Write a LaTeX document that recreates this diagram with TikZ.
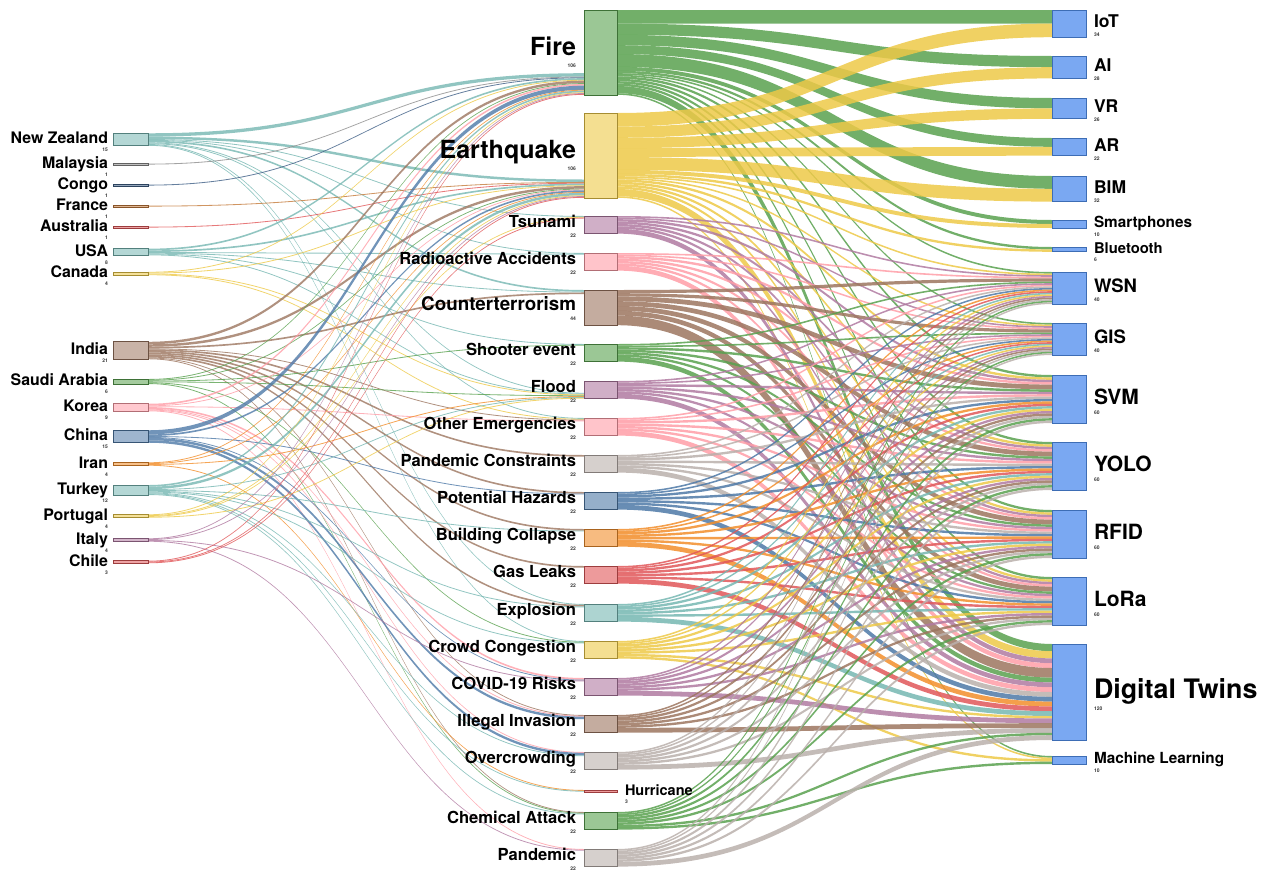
\documentclass[tikz,border=0pt]{standalone}
\usepackage{fontspec}
\setmainfont{TeX Gyre Heros}
\usetikzlibrary{backgrounds}
\definecolor{cG}{HTML}{59A14F}
\definecolor{cY}{HTML}{EDC948}
\definecolor{cP}{HTML}{B07AA1}
\definecolor{cK}{HTML}{FF9DA7}
\definecolor{cB}{HTML}{9C755F}
\definecolor{cA}{HTML}{BAB0AC}
\definecolor{cU}{HTML}{4E79A7}
\definecolor{cO}{HTML}{F28E2B}
\definecolor{cR}{HTML}{E15759}
\definecolor{cT}{HTML}{76B7B2}
\definecolor{cMy}{HTML}{8C8C8C}
\definecolor{cCg}{HTML}{3F5F86}
\definecolor{cFr}{HTML}{C47A3A}
\definecolor{cN}{HTML}{7AA8F2}
\definecolor{cNd}{HTML}{3D6DB5}
% offsets bookkeeping
\newcommand\initoff[1]{\expandafter\gdef\csname soX#1\endcsname{0}\expandafter\gdef\csname tiX#1\endcsname{0}}
\newcommand\setin[2]{\expandafter\gdef\csname tiX#1\endcsname{#2}}
\newcommand\skband[5]{%
  \pgfmathsetmacro\bA{\csname soX#1\endcsname}%
  \pgfmathsetmacro\bB{\csname tiX#2\endcsname}%
  \pgfmathsetmacro\bT{#3*#5}%
  \pgfmathsetmacro\bAe{\bA+\bT}%
  \pgfmathsetmacro\bBe{\bB+\bT}%
  \expandafter\xdef\csname soX#1\endcsname{\bAe}%
  \expandafter\xdef\csname tiX#2\endcsname{\bBe}%
  \fill[#4] ([yshift=-\bA pt]#1.north east) .. controls +(218,0) and +(-218,0) .. ([yshift=-\bB pt]#2.north west)
     -- ([yshift=-\bBe pt]#2.north west) .. controls +(-218,0) and +(218,0) .. ([yshift=-\bAe pt]#1.north east) -- cycle;}
\newcommand\lflow[4]{\skband{#1}{#2}{#3}{fill=#4,fill opacity=0.8}{0.83}}
\newcommand\rflow[4]{\skband{#1}{#2}{#3}{fill=#4,fill opacity=0.85}{0.8}}
\newcommand\stdflows[2]{\rflow{#1}{wsn}{2}{#2}\rflow{#1}{gis}{2}{#2}\rflow{#1}{svm}{3}{#2}\rflow{#1}{yolo}{3}{#2}\rflow{#1}{rfid}{3}{#2}\rflow{#1}{lora}{3}{#2}\rflow{#1}{dt}{6}{#2}}
\newcommand\mlflows[2]{\rflow{#1}{wsn}{2}{#2}\rflow{#1}{gis}{2}{#2}\rflow{#1}{svm}{3}{#2}\rflow{#1}{yolo}{3}{#2}\rflow{#1}{rfid}{3}{#2}\rflow{#1}{lora}{3}{#2}\rflow{#1}{dt}{3}{#2}\rflow{#1}{ml}{3}{#2}}
\newcommand\bigflows[2]{\rflow{#1}{iot}{17}{#2}\rflow{#1}{ai}{14}{#2}\rflow{#1}{vr}{13}{#2}\rflow{#1}{ar}{11}{#2}\rflow{#1}{bim}{16}{#2}\rflow{#1}{sph}{5}{#2}\rflow{#1}{blu}{3}{#2}%
  \rflow{#1}{wsn}{2}{#2}\rflow{#1}{gis}{2}{#2}\rflow{#1}{svm}{3}{#2}\rflow{#1}{yolo}{3}{#2}\rflow{#1}{rfid}{3}{#2}\rflow{#1}{lora}{3}{#2}\rflow{#1}{dt}{9}{#2}\rflow{#1}{ml}{2}{#2}}
% node makers
\newcommand\mkc[5]{% name, center y, value, colour, label
  \pgfmathsetmacro\hh{max(#3*0.83,1.6)}%
  \node[cbox, fill=#4!55!white, draw=#4!70!black, minimum height=\hh pt, anchor=west] (#1) at (113,#2) {};
  \initoff{#1}%
  \node[lab, font=\bfseries\fontsize{15.9}{16}\selectfont, anchor=base east] (#1l) at (108,#2+4) {#5};
  \node[num, anchor=north east] (#1n) at (108,#2+8.5) {#3};}
\newcommand\mkm[6]{% name, top, value, colour, label, font size
  \node[mbox, fill=#4!60!white, draw=#4!70!black, minimum height=#3*0.8*1pt, anchor=north west] (#1) at (584,#2) {};
  \initoff{#1}%
  \node[lab, font=\bfseries\fontsize{#6}{#6}\selectfont, anchor=base east] (#1l) at (576,#2+#3*0.4+3) {#5};
  \node[num, anchor=north east] (#1n) at (576,#2+#3*0.4+3+#6*0.35) {#3};}
\newcommand\mkr[5]{% name, top, value, label, font size
  \node[rbox, minimum height=#3*0.8*1pt, anchor=north west] (#1) at (1052,#2) {};
  \initoff{#1}%
  \node[lab, font=\bfseries\fontsize{#5}{#5}\selectfont, anchor=base west] (#1l) at (1094,#2+#3*0.4+#5*0.25) {#4};
  \node[num, anchor=north west] (#1n) at (1094,#2+#3*0.4+#5*0.55) {#3};}
\begin{document}
\begin{tikzpicture}[x=1pt,y=-1pt,
  cbox/.style={rectangle, inner sep=0pt, outer sep=0pt, minimum width=35pt, line width=0.6pt},
  mbox/.style={rectangle, inner sep=0pt, outer sep=0pt, minimum width=33pt, line width=0.6pt},
  rbox/.style={rectangle, inner sep=0pt, outer sep=0pt, minimum width=34pt, line width=0.7pt, fill=cN, draw=cNd},
  lab/.style={inner sep=0pt, outer sep=0pt, text=black},
  num/.style={inner sep=0pt, outer sep=0pt, font=\bfseries\fontsize{5}{5}\selectfont, text=black!80}]
\useasboundingbox (0,0) rectangle (1265,870);
% ---------- countries ----------
\mkc{nz}{139.5}{15}{cT}{New Zealand}
\mkc{my}{164.5}{1}{cMy}{Malaysia}
\mkc{cg}{185.5}{1}{cCg}{Congo}
\mkc{fr}{206.5}{1}{cFr}{France}
\mkc{au}{227.5}{1}{cR}{Australia}
\mkc{us}{252}{8}{cT}{USA}
\mkc{ca}{273.5}{4}{cY}{Canada}
\mkc{ind}{350.5}{21}{cB}{India}
\mkc{sa}{381.5}{6}{cG}{Saudi Arabia}
\mkc{kr}{407.5}{9}{cK}{Korea}
\mkc{cn}{436.5}{15}{cU}{China}
\mkc{ir}{464}{4}{cO}{Iran}
\mkc{tr}{490}{12}{cT}{Turkey}
\mkc{pt}{516}{4}{cY}{Portugal}
\mkc{it}{540}{4}{cP}{Italy}
\mkc{cl}{562}{3}{cR}{Chile}
% ---------- disasters ----------
\mkm{fire}{10}{106}{cG}{Fire}{25}
\mkm{quake}{113}{106}{cY}{Earthquake}{25}
\mkm{tsu}{216}{22}{cP}{Tsunami}{16.6}
\mkm{rad}{253}{22}{cK}{Radioactive Accidents}{16.6}
\mkm{ctr}{290}{44}{cB}{Counterterrorism}{18.8}
\mkm{sho}{344}{22}{cG}{Shooter event}{16.6}
\mkm{flo}{381}{22}{cP}{Flood}{16.6}
\mkm{oth}{418}{22}{cK}{Other Emergencies}{16.6}
\mkm{pco}{455}{22}{cA}{Pandemic Constraints}{16.6}
\mkm{pha}{492}{22}{cU}{Potential Hazards}{16.6}
\mkm{bco}{529}{22}{cO}{Building Collapse}{16.6}
\mkm{gas}{566}{22}{cR}{Gas Leaks}{16.6}
\mkm{exp}{604}{22}{cT}{Explosion}{16.6}
\mkm{cro}{641}{22}{cY}{Crowd Congestion}{16.6}
\mkm{cov}{678}{22}{cP}{COVID-19 Risks}{16.6}
\mkm{ill}{715}{22}{cB}{Illegal Invasion}{16.6}
\mkm{ovc}{752}{22}{cA}{Overcrowding}{16.6}
\node[mbox, fill=cR!60!white, draw=cR!70!black, minimum height=2.4pt, anchor=north west] (hur) at (584,790) {};
\initoff{hur}
\node[lab, font=\bfseries\fontsize{14.5}{14.5}\selectfont, anchor=base west] (hurl) at (625,795.5) {Hurricane};
\node[num, anchor=north west] (hurn) at (625,800) {3};
\mkm{che}{812}{22}{cG}{Chemical Attack}{16.6}
\mkm{pan}{849}{22}{cA}{Pandemic}{16.6}
% ---------- technologies ----------
\mkr{iot}{10}{34}{IoT}{17.5}
\mkr{ai}{56}{28}{AI}{17.5}
\mkr{vr}{98}{26}{VR}{17.5}
\mkr{ar}{138}{22}{AR}{17.5}
\mkr{bim}{176}{32}{BIM}{17.5}
\mkr{sph}{220}{10}{Smartphones}{15.3}
\mkr{blu}{247}{6}{Bluetooth}{14.8}
\mkr{wsn}{272}{40}{WSN}{18.5}
\mkr{gis}{323}{40}{GIS}{18.5}
\mkr{svm}{375}{60}{SVM}{21}
\mkr{yolo}{442}{60}{YOLO}{21}
\mkr{rfid}{510}{60}{RFID}{21}
\mkr{lora}{577}{60}{LoRa}{21}
\mkr{dt}{644}{120}{Digital Twins}{26.8}
\mkr{ml}{756}{10}{Machine Learning}{15.3}
\setin{fire}{63.2}
\setin{quake}{66.5}
\setin{flo}{11.8}
\begin{pgfonlayer}{background}
% ---------- country -> disaster ----------
\lflow{nz}{fire}{4}{cT}\lflow{nz}{quake}{3}{cT}\lflow{nz}{tsu}{1}{cT}\lflow{nz}{rad}{1}{cT}\lflow{nz}{ctr}{2}{cT}\lflow{nz}{flo}{1}{cT}\lflow{nz}{oth}{1}{cT}\lflow{nz}{exp}{1}{cT}\lflow{nz}{cro}{1}{cT}
\lflow{my}{fire}{1}{cMy}
\lflow{cg}{fire}{1}{cCg}
\lflow{fr}{quake}{1}{cFr}
\lflow{au}{quake}{1}{cR}
\lflow{us}{fire}{2}{cT}\lflow{us}{quake}{2}{cT}\lflow{us}{rad}{1}{cT}\lflow{us}{ctr}{1}{cT}\lflow{us}{sho}{1}{cT}\lflow{us}{flo}{1}{cT}
\lflow{ca}{fire}{1}{cY}\lflow{ca}{quake}{1}{cY}\lflow{ca}{flo}{1}{cY}\lflow{ca}{oth}{1}{cY}
\lflow{ind}{fire}{3}{cB}\lflow{ind}{quake}{3}{cB}\lflow{ind}{ctr}{2}{cB}\lflow{ind}{oth}{1}{cB}\lflow{ind}{pco}{2}{cB}\lflow{ind}{pha}{2}{cB}\lflow{ind}{bco}{2}{cB}\lflow{ind}{gas}{2}{cB}\lflow{ind}{exp}{2}{cB}\lflow{ind}{ill}{1}{cB}\lflow{ind}{che}{1}{cB}
\lflow{sa}{fire}{1}{cG}\lflow{sa}{quake}{1}{cG}\lflow{sa}{sho}{1}{cG}\lflow{sa}{flo}{1}{cG}\lflow{sa}{cro}{1}{cG}\lflow{sa}{che}{1}{cG}
\lflow{kr}{fire}{2}{cK}\lflow{kr}{quake}{1}{cK}\lflow{kr}{oth}{1}{cK}\lflow{kr}{cov}{2}{cK}\lflow{kr}{ill}{1}{cK}\lflow{kr}{ovc}{1}{cK}\lflow{kr}{pan}{1}{cK}
\lflow{cn}{fire}{5}{cU}\lflow{cn}{quake}{2}{cU}\lflow{cn}{pha}{1}{cU}\lflow{cn}{cov}{1}{cU}\lflow{cn}{ill}{3}{cU}\lflow{cn}{ovc}{3}{cU}
\lflow{ir}{fire}{1}{cO}\lflow{ir}{quake}{1}{cO}\lflow{ir}{flo}{1}{cO}\lflow{ir}{hur}{1}{cO}
\lflow{tr}{fire}{2}{cT}\lflow{tr}{quake}{3}{cT}\lflow{tr}{flo}{1}{cT}\lflow{tr}{bco}{1}{cT}\lflow{tr}{exp}{1}{cT}\lflow{tr}{cro}{1}{cT}\lflow{tr}{ovc}{1}{cT}\lflow{tr}{hur}{1}{cT}\lflow{tr}{che}{1}{cT}
\lflow{pt}{fire}{1}{cY}\lflow{pt}{quake}{1}{cY}\lflow{pt}{tsu}{1}{cY}\lflow{pt}{flo}{1}{cY}
\lflow{it}{fire}{1}{cP}\lflow{it}{quake}{1}{cP}\lflow{it}{cov}{1}{cP}\lflow{it}{pan}{1}{cP}
\lflow{cl}{fire}{1}{cR}\lflow{cl}{quake}{1}{cR}\lflow{cl}{tsu}{1}{cR}
% ---------- disaster -> technology ----------
\bigflows{fire}{cG}
\bigflows{quake}{cY}
\stdflows{tsu}{cP}
\stdflows{rad}{cK}
\rflow{ctr}{wsn}{4}{cB}\rflow{ctr}{gis}{4}{cB}\rflow{ctr}{svm}{6}{cB}\rflow{ctr}{yolo}{6}{cB}\rflow{ctr}{rfid}{6}{cB}\rflow{ctr}{lora}{6}{cB}\rflow{ctr}{dt}{12}{cB}
\stdflows{sho}{cG}
\stdflows{flo}{cP}
\stdflows{oth}{cK}
\stdflows{pco}{cA}
\stdflows{pha}{cU}
\stdflows{bco}{cO}
\stdflows{gas}{cR}
\stdflows{exp}{cT}
\mlflows{cro}{cY}
\stdflows{cov}{cP}
\stdflows{ill}{cB}
\stdflows{ovc}{cA}
\mlflows{che}{cG}
\stdflows{pan}{cA}
\end{pgfonlayer}
\end{tikzpicture}
\end{document}
